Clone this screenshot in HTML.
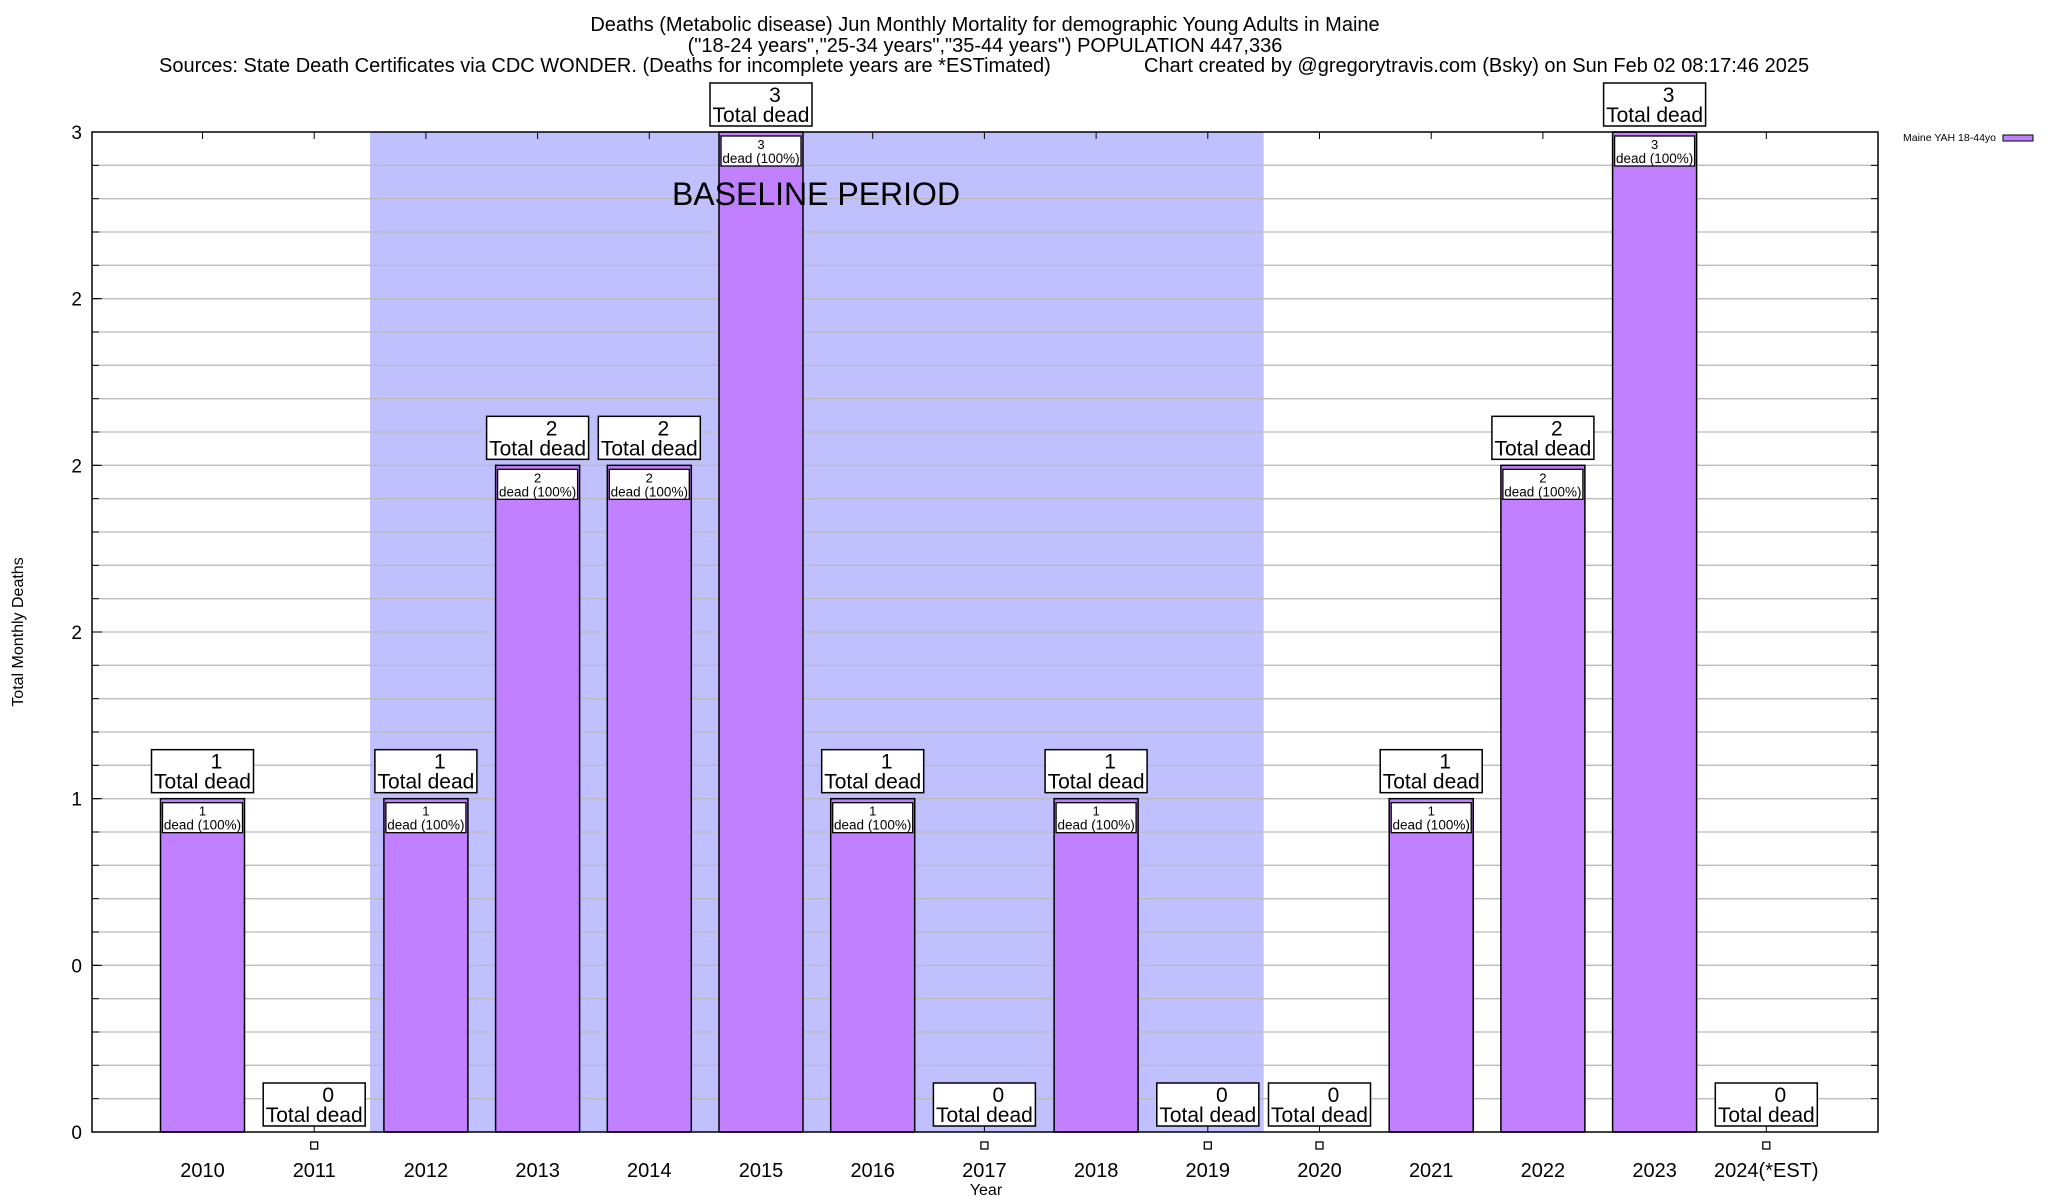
<!DOCTYPE html>
<html><head><meta charset="utf-8"><style>
html,body{margin:0;padding:0;background:#fff}
svg{display:block;font-family:"Liberation Sans",Arial,sans-serif}
</style></head><body>
<svg id="chart" width="2048" height="1200" viewBox="0 0 2048 1200" xmlns="http://www.w3.org/2000/svg">
<g font-size="20" fill="#000">
<text x="985" y="31" text-anchor="middle">Deaths (Metabolic disease) Jun Monthly Mortality for demographic Young Adults in Maine</text>
<text x="985" y="52" text-anchor="middle">("18-24 years","25-34 years","35-44 years") POPULATION 447,336</text>
<text x="159" y="72">Sources: State Death Certificates via CDC WONDER. (Deaths for incomplete years are *ESTimated)</text>
<text x="1144" y="72">Chart created by @gregorytravis.com (Bsky) on Sun Feb 02 08:17:46 2025</text>
</g>
<g id="plot"></g>
</svg>
<script>
const years = ["2010","2011","2012","2013","2014","2015","2016","2017","2018","2019","2020","2021","2022","2023","2024(*EST)"];
const deaths = [1,0,1,2,2,3,1,0,1,0,0,1,2,3,0];
const yTickValues = [0,0.5,1,1.5,2,2.5,3];
const yTickLabels = ["0","0","1","2","2","2","3"];
const baselineStart = 1;
const baselineEnd = 9;

const NS="http://www.w3.org/2000/svg";
const L=92,R=1878,T=132,B=1132,YMAX=3;
const x0=202.5, step=111.7;
const xs=i=>x0+step*i;
const ys=v=>B-v*(B-T)/YMAX;
const g=document.getElementById('plot');
function mk(tag,attrs,parent,text){const e=document.createElementNS(NS,tag);for(const k in attrs)e.setAttribute(k,attrs[k]);if(text!==undefined)e.textContent=text;(parent||g).appendChild(e);return e;}

let e=mk('rect',{x:xs(baselineStart+0.5),y:T,width:xs(baselineEnd+0.5)-xs(baselineStart+0.5),height:B-T,fill:'#c0c0ff'});


for(let k=1;k<30;k++){const v=k/10;
 e=mk('line',{x1:L,x2:R,y1:ys(v),y2:ys(v),stroke:'#bbbbbb','stroke-width':1.3});
 
 
 mk('line',{x1:L,x2:L+7,y1:ys(v),y2:ys(v),stroke:'#000','stroke-width':1});
 mk('line',{x1:R,x2:R-7,y1:ys(v),y2:ys(v),stroke:'#000','stroke-width':1});
}

years.forEach((yr,i)=>{
 const cx=xs(i),v=deaths[i];
 mk('line',{x1:cx,x2:cx,y1:T,y2:T+7,stroke:'#000','stroke-width':1});
 if(v>0){
  e=mk('rect',{x:cx-42,y:ys(v),width:84,height:B-ys(v),fill:'#c080ff',stroke:'#000','stroke-width':1.5});
  
  
  e=mk('rect',{x:cx-40,y:ys(v)+4,width:80,height:30,fill:'#fff',stroke:'#000','stroke-width':1.3});
  
  
  mk('text',{x:cx,y:ys(v)+17,'font-size':13,'text-anchor':'middle'},g,String(v));
  mk('text',{x:cx,y:ys(v)+31,'font-size':13.5,'text-anchor':'middle'},g,'dead (100%)');
 } else {
  mk('line',{x1:cx,x2:cx,y1:B-6,y2:B,stroke:'#000','stroke-width':1});
  e=mk('rect',{x:cx-3.5,y:B+10,width:7,height:7,fill:'#fff',stroke:'#000','stroke-width':1.3});
  
  
 }
 const bb=ys(v)-6;
 e=mk('rect',{x:cx-51,y:bb-43,width:102,height:43,fill:'#fff',stroke:'#000','stroke-width':1.5});
 
 
 mk('text',{x:cx+14,y:bb-24,'font-size':21,'text-anchor':'middle'},g,String(v));
 mk('text',{x:cx,y:bb-4,'font-size':21,'text-anchor':'middle'},g,'Total dead');
 e=mk('text',{x:cx,y:1177,'font-size':20,'text-anchor':'middle'},g,yr);
 
 
});
e=mk('text',{x:816,y:205,'font-size':32,'text-anchor':'middle'},g,'BASELINE PERIOD');


yTickValues.forEach((v,i)=>{
 mk('line',{x1:L,x2:L+10,y1:ys(v),y2:ys(v),stroke:'#000','stroke-width':1});
 e=mk('text',{x:82,y:ys(v)+7,'font-size':19,'text-anchor':'end'},g,yTickLabels[i]);
 
 
});
e=mk('rect',{x:L,y:T,width:R-L,height:B-T,fill:'none',stroke:'#000','stroke-width':1.5});


e=mk('text',{x:986,y:1195,'font-size':16,'text-anchor':'middle'},g,'Year');


e=mk('text',{x:0,y:0,'font-size':16,'text-anchor':'middle',transform:'translate(23,632) rotate(-90)'},g,'Total Monthly Deaths');


e=mk('text',{x:1996,y:141,'font-size':10.5,'text-anchor':'end'},g,'Maine YAH 18-44yo');


e=mk('rect',{x:2003,y:135,width:30,height:6,fill:'#c080ff',stroke:'#000','stroke-width':1});


</script>
</body></html>
